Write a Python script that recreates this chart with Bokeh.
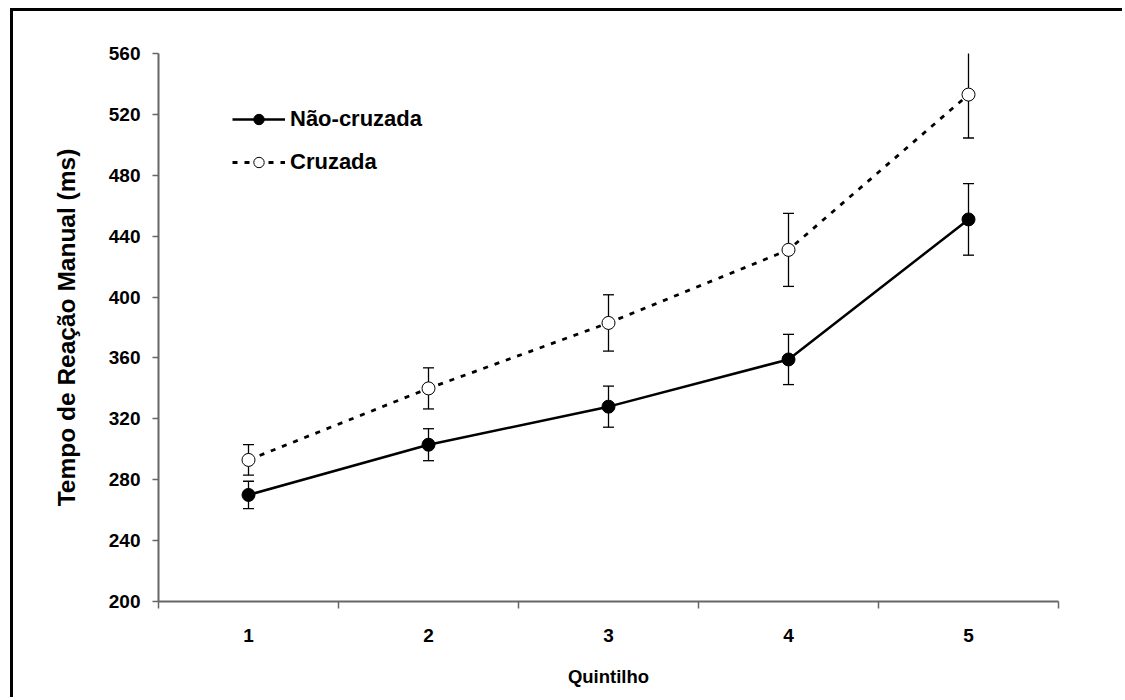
from bokeh.plotting import figure
from bokeh.models import (ColumnDataSource, Range1d, FixedTicker, Whisker, TeeHead,
                          Legend, LegendItem)
from bokeh.embed import file_html
from bokeh.resources import INLINE

# ---- data ----
quintis = [1, 2, 3, 4, 5]
nao_cruzada = [270, 303, 328, 359, 451]
nao_cruzada_err = [9, 10.5, 13.5, 16.5, 23.5]
cruzada = [293, 340, 383, 431, 533]
cruzada_err = [10, 13.5, 18.5, 24, 28.5]
y_ticks = [200, 240, 280, 320, 360, 400, 440, 480, 520, 560]
x_labels = {1: "1", 2: "2", 3: "3", 4: "4", 5: "5"}

FONT = "Liberation Sans"

src_n = ColumnDataSource(dict(x=quintis, y=nao_cruzada,
                              lo=[v - e for v, e in zip(nao_cruzada, nao_cruzada_err)],
                              hi=[v + e for v, e in zip(nao_cruzada, nao_cruzada_err)]))
src_c = ColumnDataSource(dict(x=quintis, y=cruzada,
                              lo=[v - e for v, e in zip(cruzada, cruzada_err)],
                              hi=[v + e for v, e in zip(cruzada, cruzada_err)]))

p = figure(width=1112, height=689, output_backend="svg", toolbar_location=None,
           x_range=Range1d(0.5, 5.5), y_range=Range1d(200, 560),
           min_border_left=145, min_border_right=67, min_border_top=42, min_border_bottom=99)
p.styles = {"border-top": "3px solid black", "border-left": "3px solid black",
            "margin-left": "10px", "margin-top": "8px"}
p.outline_line_color = None
p.grid.grid_line_color = None
p.background_fill_color = "white"
p.border_fill_color = "white"

# axes
p.xaxis.ticker = FixedTicker(ticks=quintis, minor_ticks=[0.5, 1.5, 2.5, 3.5, 4.5, 5.5])
p.xaxis.major_label_overrides = x_labels
p.xaxis.major_tick_out = 0
p.xaxis.major_tick_in = 0
p.xaxis.minor_tick_out = 7
p.xaxis.minor_tick_in = 0
p.yaxis.ticker = FixedTicker(ticks=y_ticks)
p.yaxis.major_tick_out = 6
p.yaxis.major_tick_in = 0
p.yaxis.minor_tick_line_color = None
for ax in (p.xaxis[0], p.yaxis[0]):
    ax.axis_line_color = "#666666"
    ax.axis_line_width = 2
    ax.major_tick_line_color = "#666666"
    ax.minor_tick_line_color = "#666666" if ax is p.xaxis[0] else None
    ax.major_tick_line_width = 1.5
    ax.minor_tick_line_width = 1.5
    ax.major_label_text_font = FONT
    ax.major_label_text_font_style = "bold"
    ax.major_label_text_font_size = "19px"
    ax.major_label_text_color = "black"
    ax.axis_label_text_font = FONT
    ax.axis_label_text_font_style = "bold"
    ax.axis_label_text_color = "black"
p.xaxis.axis_label_text_font_size = "18.5px"
p.yaxis.axis_label_text_font_size = "24.5px"
p.xaxis.major_label_standoff = 20
p.yaxis.major_label_standoff = 12
p.xaxis.axis_label = "Quintilho"
p.yaxis.axis_label = "Tempo de Reação Manual (ms)"
p.xaxis.axis_label_standoff = 21
p.yaxis.axis_label_standoff = 26

# error bars
for src in (src_n, src_c):
    w = Whisker(source=src, base="x", lower="lo", upper="hi", level="underlay",
                line_color="black", line_width=1.3,
                lower_head=TeeHead(size=11, line_color="black", line_width=1.3),
                upper_head=TeeHead(size=11, line_color="black", line_width=1.3))
    p.add_layout(w)

# series
ln = p.line("x", "y", source=src_n, line_color="black", line_width=2.5)
mn = p.scatter("x", "y", source=src_n, size=13, fill_color="black", line_color="black")
lc = p.line("x", "y", source=src_c, line_color="black", line_width=2.8, line_dash="5 7")
mc = p.scatter("x", "y", source=src_c, size=13, fill_color="white", line_color="black",
               line_width=1)

legend = Legend(items=[LegendItem(label="Não-cruzada", renderers=[ln, mn]),
                       LegendItem(label="Cruzada", renderers=[lc, mc])],
                location=(74, 426), padding=0, margin=0, spacing=17,
                glyph_width=53, glyph_height=26, label_height=26, label_standoff=5,
                border_line_color=None, background_fill_alpha=0,
                label_text_font=FONT, label_text_font_style="bold",
                label_text_font_size="22px", label_text_color="black")
p.add_layout(legend)

open("out.html", "w").write(file_html(p, INLINE))
